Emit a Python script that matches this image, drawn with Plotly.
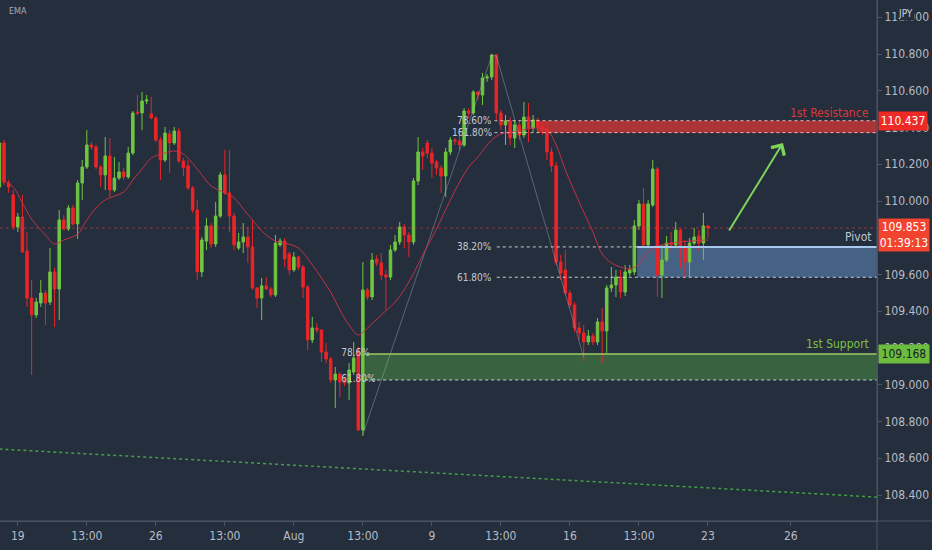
import plotly.graph_objects as go

# ---------------- data (USDJPY 4H, bar index 0..154) ----------------
opens = [110.076,110.316,110.098,110.033,109.859,109.913,109.728,109.472,109.380,109.445,
         109.499,109.450,109.614,109.521,109.897,109.848,109.962,109.875,110.098,110.185,
         110.305,110.294,110.185,110.142,110.245,110.060,110.125,110.158,110.131,110.261,
         110.484,110.479,110.544,110.474,110.452,110.332,110.223,110.365,110.316,110.381,
         110.218,110.191,110.071,109.951,109.614,109.782,109.864,109.766,109.918,110.142,
         110.044,109.918,109.744,109.777,109.804,109.750,109.527,109.472,109.538,109.521,
         109.489,109.761,109.782,109.712,109.625,109.695,109.641,109.532,109.244,109.309,
         109.298,109.178,109.140,109.026,109.058,109.026,109.010,109.069,109.189,108.754,
         109.516,109.478,109.685,109.663,109.597,109.586,109.733,109.777,109.859,109.815,
         109.777,110.109,110.267,110.316,110.261,110.212,110.180,110.136,110.267,110.332,
         110.327,110.305,110.490,110.479,110.593,110.577,110.670,110.675,110.795,110.479,
         110.414,110.436,110.343,110.414,110.359,110.457,110.397,110.441,110.403,110.397,
         110.267,110.191,109.668,109.625,109.499,109.434,109.309,109.282,109.233,109.265,
         109.233,109.342,109.293,109.527,109.543,109.586,109.505,109.608,109.614,109.864,
         109.984,109.761,109.978,110.174,109.597,109.679,109.771,109.761,109.842,109.750,
         109.668,109.771,109.810,109.771,109.864]
highs = [110.332,110.332,110.114,110.060,109.935,110.033,109.831,109.570,109.472,109.570,
         109.516,109.744,109.636,109.951,109.924,109.978,109.978,110.114,110.223,110.386,
         110.321,110.305,110.196,110.348,110.343,110.240,110.212,110.180,110.294,110.490,
         110.577,110.593,110.577,110.566,110.463,110.348,110.403,110.386,110.403,110.397,
         110.234,110.223,110.082,110.006,109.804,109.908,109.880,109.995,110.158,110.278,
         110.278,109.935,109.826,109.880,109.859,109.897,109.532,109.581,109.586,109.532,
         109.815,109.799,109.799,109.723,109.723,109.701,109.652,109.543,109.369,109.336,
         109.298,109.227,109.151,109.097,109.069,109.037,109.118,109.233,109.206,109.668,
         109.527,109.717,109.706,109.717,109.625,109.761,109.815,109.886,109.875,109.831,
         110.125,110.348,110.289,110.332,110.289,110.223,110.196,110.289,110.348,110.343,
         110.397,110.506,110.506,110.604,110.599,110.697,110.691,110.800,110.800,110.495,
         110.468,110.457,110.441,110.441,110.539,110.533,110.468,110.452,110.430,110.430,
         110.289,110.212,109.706,109.733,109.516,109.450,109.342,109.325,109.298,109.282,
         109.363,109.418,109.543,109.641,109.625,109.625,109.652,109.652,109.897,110.006,
         110.071,110.006,110.223,110.185,109.761,109.810,109.831,109.886,109.853,109.788,
         109.799,109.853,109.842,109.935,109.869]
lows = [110.060,110.087,110.044,109.842,109.831,109.717,109.423,109.053,109.363,109.423,
        109.325,109.434,109.314,109.352,109.837,109.837,109.864,109.793,110.006,110.174,
        110.278,110.174,110.076,110.060,110.022,110.049,110.114,110.114,110.120,110.250,
        110.468,110.386,110.528,110.446,110.321,110.114,110.212,110.153,110.305,110.207,
        110.136,110.060,109.935,109.570,109.586,109.733,109.744,109.750,109.908,110.033,
        109.831,109.733,109.733,109.717,109.663,109.516,109.418,109.352,109.516,109.478,
        109.478,109.750,109.641,109.597,109.614,109.625,109.472,109.189,109.227,109.282,
        109.124,109.118,109.010,108.873,108.933,108.993,108.917,109.053,108.749,108.721,
        109.461,109.461,109.646,109.570,109.407,109.570,109.723,109.761,109.744,109.695,
        109.761,110.087,110.169,110.234,110.125,110.142,110.044,110.022,110.250,110.305,
        110.278,110.294,110.452,110.468,110.550,110.523,110.648,110.659,110.441,110.386,
        110.305,110.305,110.289,110.332,110.343,110.321,110.376,110.370,110.359,110.223,
        110.158,109.652,109.570,109.489,109.418,109.287,109.244,109.124,109.216,109.216,
        109.216,109.118,109.173,109.505,109.478,109.472,109.483,109.592,109.597,109.842,
        109.744,109.750,109.967,109.478,109.472,109.668,109.723,109.750,109.636,109.581,
        109.586,109.761,109.733,109.679,109.799]
closes = [110.316,110.104,110.076,109.859,109.913,109.723,109.472,109.380,109.450,109.499,
          109.445,109.614,109.521,109.897,109.848,109.962,109.875,110.098,110.185,110.305,
          110.294,110.185,110.142,110.245,110.060,110.125,110.158,110.131,110.261,110.479,
          110.479,110.544,110.550,110.452,110.332,110.223,110.370,110.316,110.381,110.218,
          110.180,110.071,109.951,109.614,109.788,109.864,109.766,109.918,110.142,110.044,
          109.918,109.761,109.777,109.804,109.750,109.527,109.472,109.538,109.521,109.489,
          109.771,109.782,109.685,109.625,109.695,109.641,109.532,109.244,109.309,109.298,
          109.178,109.140,109.026,109.058,109.015,109.010,109.080,109.146,108.754,109.516,
          109.478,109.679,109.663,109.597,109.586,109.733,109.777,109.859,109.815,109.777,
          110.109,110.267,110.245,110.261,110.207,110.180,110.136,110.267,110.332,110.327,
          110.305,110.490,110.479,110.593,110.577,110.670,110.675,110.795,110.479,110.414,
          110.436,110.343,110.414,110.359,110.457,110.397,110.441,110.403,110.386,110.267,
          110.191,109.668,109.608,109.499,109.434,109.309,109.282,109.233,109.265,109.233,
          109.342,109.293,109.527,109.543,109.586,109.505,109.614,109.625,109.864,109.984,
          109.761,109.984,110.174,109.597,109.679,109.771,109.761,109.842,109.750,109.668,
          109.771,109.804,109.771,109.864,109.853]
bars = list(range(len(closes)))

ema_bars = [1,3,5,7,10,12,14,17,19,21,23,27,29,31,33,36,38,40,41,44,46,49,51,53,55,57,60,62,
            65,68,70,72,74,76,78,80,83,86,89,92,95,99,102,104,107,109,112,116,119,121,123,126,
            129,131,133,135,137,139,141,144,148,154]
ema_vals = [110.109,110.076,109.989,109.902,109.815,109.766,109.788,109.820,109.897,109.962,
            110.006,110.049,110.114,110.174,110.234,110.261,110.272,110.256,110.234,110.142,
            110.082,110.044,110.017,109.957,109.897,109.837,109.782,109.771,109.744,109.652,
            109.581,109.505,109.407,109.325,109.271,109.309,109.380,109.450,109.559,109.706,
            109.848,110.055,110.185,110.240,110.332,110.365,110.376,110.397,110.386,110.305,
            110.169,109.995,109.831,109.712,109.663,109.641,109.630,109.657,109.723,109.761,
            109.777,109.788]

tick_bars = [4, 19, 34, 49, 64, 79, 94, 109, 124, 139, 154, 172]
tick_text = ["19", "13:00", "26", "13:00", "Aug", "13:00", "9", "13:00", "16", "13:00", "23", "26"]

zigzag_bars = [79, 107, 108, 127]
zigzag_vals = [108.730, 110.790, 110.790, 109.150]
trend_bars = [0, 191]
trend_vals = [108.650, 108.388]

resistance = (110.372, 110.437)
pivot = (109.585, 109.750)
support = (109.026, 109.168)
fib_upper = {"78.60%": 110.437, "161.80%": 110.372, "38.20%": 109.750, "61.80%": 109.585}
fib_lower = {"78.6%": 109.168, "61.80%": 109.026}
arrow_from = (158.4, 109.831)
arrow_to = (170.3, 110.316)
countdown = "01:39:13"

# ---------------- styling ----------------
BG = "#242e3c"
TXT = "#b8bcc6"
AXL = "#4a5464"
UP = "#6fc641"
DN = "#ea2528"
FONT = "Liberation Sans Narrow, DejaVu Sans Condensed, Arial Narrow, sans-serif"
XMIN, XMAX = 0.13, 190.74
YMIN, YMAX = 108.2585, 111.0939

fig = go.Figure()

# lower fib labels drawn beneath candles
fig.add_trace(go.Scatter(
    x=[74.3] * len(fib_lower), y=list(fib_lower.values()), text=list(fib_lower.keys()),
    mode="text", textposition="middle right",
    textfont=dict(color="#c4c9d2", size=10, family=FONT), hoverinfo="skip"))

# trendline
fig.add_trace(go.Scatter(x=trend_bars, y=trend_vals, mode="lines",
                         line=dict(color="#43a047", width=1.5, dash="dot"), hoverinfo="skip"))
# zigzag
fig.add_trace(go.Scatter(x=zigzag_bars, y=zigzag_vals, mode="lines",
                         line=dict(color="rgba(175,185,200,0.4)", width=1), hoverinfo="skip"))
# EMA
fig.add_trace(go.Scatter(x=ema_bars, y=ema_vals, mode="lines", line_shape="spline",
                         line=dict(color="rgba(210,50,70,0.9)", width=1), hoverinfo="skip"))

fig.add_trace(go.Candlestick(
    x=bars, open=opens, high=highs, low=lows, close=closes,
    increasing=dict(fillcolor=UP, line=dict(color=UP, width=1)),
    decreasing=dict(fillcolor=DN, line=dict(color=DN, width=1)),
    whiskerwidth=0, hoverinfo="skip"))

shapes = []
# zones
shapes.append(dict(type="rect", xref="x", yref="y", x0=116.8, x1=XMAX, y0=resistance[0], y1=resistance[1],
                   fillcolor="rgba(225,55,52,0.72)", line=dict(width=0), layer="below"))
shapes.append(dict(type="rect", xref="x", yref="y", x0=138.6, x1=XMAX, y0=pivot[0], y1=pivot[1],
                   fillcolor="rgba(110,160,220,0.45)", line=dict(width=0), layer="below"))
shapes.append(dict(type="rect", xref="x", yref="y", x0=79.5, x1=XMAX, y0=support[0], y1=support[1],
                   fillcolor="rgba(90,180,70,0.40)", line=dict(width=0), layer="below"))
dotc = "rgba(225,230,238,0.85)"
# fib dotted lines
shapes.append(dict(type="line", xref="x", yref="y", x0=107.6, x1=XMAX, y0=fib_upper["78.60%"], y1=fib_upper["78.60%"],
                   line=dict(color="rgba(240,200,200,0.9)", width=1, dash="dot")))
shapes.append(dict(type="line", xref="x", yref="y", x0=107.6, x1=XMAX, y0=fib_upper["161.80%"], y1=fib_upper["161.80%"],
                   line=dict(color="rgba(240,200,200,0.9)", width=1, dash="dot")))
shapes.append(dict(type="line", xref="x", yref="y", x0=108.1, x1=138.6, y0=fib_upper["38.20%"], y1=fib_upper["38.20%"],
                   line=dict(color=dotc, width=1, dash="dot")))
shapes.append(dict(type="line", xref="x", yref="y", x0=108.1, x1=XMAX, y0=fib_upper["61.80%"], y1=fib_upper["61.80%"],
                   line=dict(color=dotc, width=1, dash="dot")))
shapes.append(dict(type="line", xref="x", yref="y", x0=138.6, x1=XMAX, y0=pivot[1], y1=pivot[1],
                   line=dict(color="#a9c8f0", width=2)))
shapes.append(dict(type="line", xref="x", yref="y", x0=79.5, x1=XMAX, y0=support[1], y1=support[1],
                   line=dict(color="#9ccc65", width=1.5)))
shapes.append(dict(type="line", xref="x", yref="y", x0=79.5, x1=XMAX, y0=support[0], y1=support[0],
                   line=dict(color=dotc, width=1, dash="dot")))
# current price line
shapes.append(dict(type="line", xref="paper", yref="y", x0=0, x1=1, y0=closes[-1], y1=closes[-1],
                   line=dict(color="rgba(235,70,80,0.5)", width=1, dash="dot")))
# axis frame extensions
shapes.append(dict(type="line", xref="paper", yref="paper", x0=0, x1=1.07, y0=0, y1=0,
                   line=dict(color=AXL, width=1)))
shapes.append(dict(type="line", xref="paper", yref="paper", x0=1, x1=1, y0=-0.06, y1=1,
                   line=dict(color=AXL, width=1)))

ann = []
for name, val in fib_upper.items():
    ann.append(dict(x=107.4, y=val, xref="x", yref="y", text=name, showarrow=False, xanchor="right",
                    font=dict(color="#c4c9d2", size=10, family=FONT)))
ann.append(dict(x=0.993, y=110.479, xref="paper", yref="y", text="1st Resistance", showarrow=False,
                xanchor="right", font=dict(color="#d83a3a", size=12, family=FONT)))
ann.append(dict(x=0.995, y=109.804, xref="paper", yref="y", text="Pivot", showarrow=False,
                xanchor="right", font=dict(color="#c0c8d6", size=12, family=FONT)))
ann.append(dict(x=0.993, y=109.222, xref="paper", yref="y", text="1st Support", showarrow=False,
                xanchor="right", font=dict(color="#7cc043", size=12, family=FONT)))
ann.append(dict(x=arrow_to[0], y=arrow_to[1], ax=arrow_from[0], ay=arrow_from[1], xref="x", yref="y",
                axref="x", ayref="y", showarrow=True, arrowhead=4, arrowsize=1.5, arrowwidth=2,
                arrowcolor="#7fd35a", text=""))
# price axis labels
ann.append(dict(x=1, y=resistance[1], xref="paper", yref="y", text="110.437", showarrow=False,
                xanchor="left", xshift=1, bgcolor="#ee2a24", width=46, height=16,
                font=dict(color="white", size=12, family=FONT)))
ann.append(dict(x=1, y=closes[-1], xref="paper", yref="y", text=f"{closes[-1]:.3f}<br>{countdown}",
                showarrow=False, xanchor="left", yanchor="top", yshift=10, xshift=1, bgcolor="#f2432f",
                width=48, height=30, font=dict(color="white", size=12, family=FONT)))
ann.append(dict(x=1, y=support[1], xref="paper", yref="y", text="109.168", showarrow=False,
                xanchor="left", xshift=1, bgcolor="#6cbd3e", width=48, height=16,
                font=dict(color="#16202c", size=12, family=FONT)))
ann.append(dict(x=1.032, y=0.975, xref="paper", yref="paper", text="JPY", showarrow=False,
                xanchor="center", yanchor="middle", bgcolor=BG, borderpad=1,
                font=dict(color="#d0d4dc", size=10, family=FONT)))
ann.append(dict(x=0.008, y=0.992, xref="paper", yref="paper", text="EMA", showarrow=False,
                xanchor="left", yanchor="top", font=dict(color="#a8adb8", size=9, family=FONT)))

fig.update_layout(
    width=932, height=550, margin=dict(l=0, r=55, t=0, b=29),
    paper_bgcolor=BG, plot_bgcolor=BG, showlegend=False, boxgap=0.22,
    shapes=shapes, annotations=ann, dragmode=False,
    font=dict(family=FONT, color=TXT, size=12),
    xaxis=dict(range=[XMIN, XMAX], rangeslider=dict(visible=False), showgrid=False, zeroline=False,
               tickmode="array", tickvals=tick_bars, ticktext=tick_text, ticks="outside", ticklen=4,
               tickcolor=AXL, showline=True, linecolor=AXL, tickfont=dict(color=TXT, size=12, family=FONT)),
    yaxis=dict(range=[YMIN, YMAX], side="right", showgrid=False, zeroline=False, dtick=0.2,
               tick0=108.4, tickformat=".3f", ticks="outside", ticklen=4, tickcolor=AXL,
               showline=True, linecolor=AXL, tickfont=dict(color=TXT, size=12, family=FONT)),
)

fig.write_html("out.html", config={"displayModeBar": False},
               post_script="document.body.style.margin='0px';document.body.style.background='" + BG + "';")
